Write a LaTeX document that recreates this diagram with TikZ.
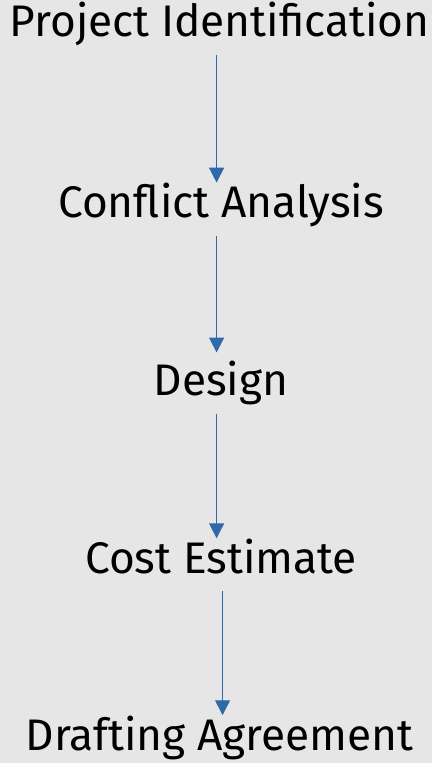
\documentclass[tikz,border=0pt]{standalone}
\usepackage{fontspec}
\setmainfont{Fira Sans}
\usetikzlibrary{arrows.meta}
\definecolor{bggray}{HTML}{E7E6E6}
\definecolor{arrowblue}{HTML}{2F69AA}

\begin{document}
\begin{tikzpicture}[x=1pt, y=-1pt,
    stage/.style = {anchor=base, inner sep=0pt, text height=35pt, text depth=18pt,
      font=\fontsize{44.5}{52}\selectfont},
    flow/.style = {draw=arrowblue, line width=1.5pt,
      -{Triangle[width=15pt, length=15pt]}}]
  \fill[bggray] (0,0) rectangle (435,768);

  \node[stage] (proj) at (221,37) {Project Identification};
  \node[stage] (conf) at (222.5,219) {Conflict Analysis};
  \node[stage] (desg) at (222.5,398) {Design};
  \node[stage] (cost) at (222.5,577) {Cost Estimate};
  \node[stage] (draft) at (221,755) {Drafting Agreement};

  \draw[flow] ([xshift=-3pt]proj.south) -- ([xshift=-4.5pt]conf.north);
  \draw[flow] ([xshift=-4.5pt]conf.south) -- ([xshift=-4.5pt, yshift=8pt]desg.north);
  \draw[flow] ([xshift=-4.5pt]desg.south) -- ([xshift=-4.5pt]cost.north);
  \draw[flow] ([xshift=1.5pt]cost.south) -- ([xshift=3pt]draft.north);
\end{tikzpicture}
\end{document}
